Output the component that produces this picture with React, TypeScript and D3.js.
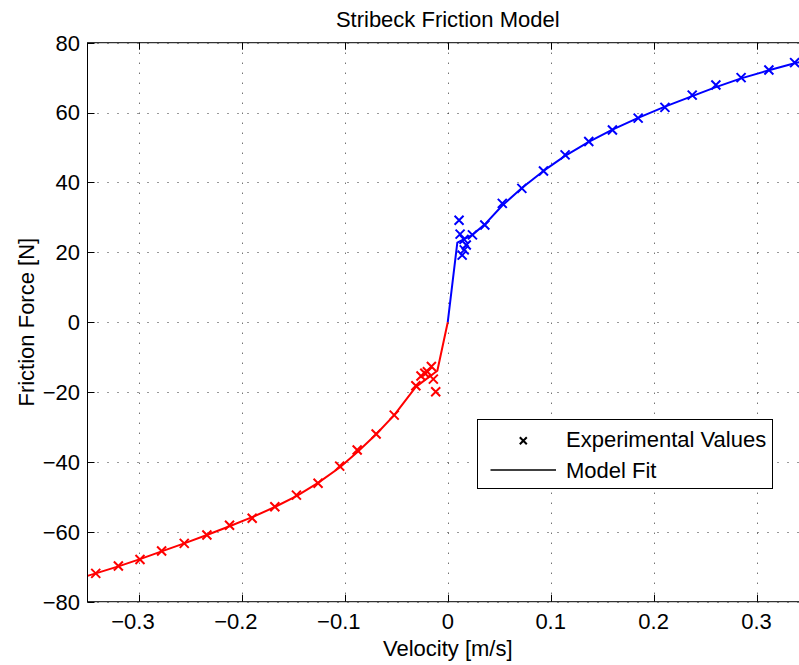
import React from "react";
import * as d3 from "d3";

const title = "Stribeck Friction Model";
const xLabel = "Velocity [m/s]";
const yLabel = "Friction Force [N]";
const legendLabels = ["Experimental Values", "Model Fit"];

const xTicks = [-0.3, -0.2, -0.1, 0, 0.1, 0.2, 0.3];
const xTickLabels = ["−0.3", "−0.2", "−0.1", "0", "0.1", "0.2", "0.3"];
const yTicks = [-80, -60, -40, -20, 0, 20, 40, 60, 80];
const yTickLabels = ["−80", "−60", "−40", "−20", "0", "20", "40", "60", "80"];

// Experimental values (negative velocities)
const negExpVelocity = [-0.342, -0.32, -0.299, -0.278, -0.256, -0.234, -0.212, -0.19, -0.168, -0.147, -0.126, -0.105, -0.088, -0.0696, -0.052, -0.031, -0.026, -0.0223, -0.0198, -0.0159, -0.014, -0.0117];
const negExpForce = [-71.9, -69.8, -67.9, -65.5, -63.3, -60.9, -58.1, -56.1, -52.8, -49.5, -46.1, -41.2, -36.6, -32.0, -26.6, -18.2, -15.4, -14.6, -14.2, -12.7, -16.3, -19.9];

// Experimental values (positive velocities)
const posExpVelocity = [0.011, 0.012, 0.014, 0.016, 0.0158, 0.018, 0.024, 0.036, 0.053, 0.072, 0.093, 0.114, 0.137, 0.16, 0.185, 0.211, 0.2375, 0.2605, 0.285, 0.312, 0.337];
const posExpForce = [29.2, 25.2, 19.2, 20.7, 23.7, 22.1, 25.0, 27.8, 34.0, 38.3, 43.3, 47.9, 51.7, 55.0, 58.4, 61.5, 65.0, 67.9, 70.0, 72.2, 74.3];

// Model fit
const negModelVelocity = [-0.35, -0.342, -0.32, -0.299, -0.278, -0.256, -0.234, -0.212, -0.19, -0.168, -0.147, -0.126, -0.105, -0.088, -0.07, -0.052, -0.031, -0.0101, 0];
const negModelForce = [-72.6, -71.9, -69.9, -67.8, -65.6, -63.3, -60.9, -58.4, -55.8, -52.9, -49.8, -46.0, -41.6, -37.2, -32.2, -26.6, -18.5, -13.9, 0];
const posModelVelocity = [0, 0.0093, 0.024, 0.036, 0.053, 0.072, 0.093, 0.114, 0.137, 0.16, 0.185, 0.211, 0.2375, 0.2605, 0.285, 0.312, 0.337, 0.35];
const posModelForce = [0, 22.8, 25.0, 28.0, 33.4, 38.4, 43.3, 47.6, 51.6, 55.1, 58.5, 61.7, 64.7, 67.3, 69.8, 72.1, 74.1, 75.0];

const W = 799;
const H = 665;
const FONT = "'Liberation Sans', Arial, Helvetica, sans-serif";
const FS = 22;

export default function App() {
  const x = d3.scaleLinear().domain([-0.35, 0.35]).range([87.5, 808]);
  const y = d3.scaleLinear().domain([-80, 80]).range([601.7, 42.7]);
  const [x0, x1] = x.range();
  const [yb, yt] = y.range();
  const tickLen = 7;

  const line = d3
    .line<[number, number]>()
    .x((d) => x(d[0]))
    .y((d) => y(d[1]));

  const zip = (a: number[], b: number[]) => a.map((v, i) => [v, b[i]] as [number, number]);
  const series = [
    { color: "#ff0000", mv: negModelVelocity, mf: negModelForce, ev: negExpVelocity, ef: negExpForce },
    { color: "#0000ff", mv: posModelVelocity, mf: posModelForce, ev: posExpVelocity, ef: posExpForce },
  ];

  const m = 4.5;
  const xMark = `M${-m},${-m}L${m},${m}M${-m},${m}L${m},${-m}`;
  const lm = 3.5;
  const legendMark = `M${-lm},${-lm}L${lm},${lm}M${-lm},${lm}L${lm},${-lm}`;

  return (
    <svg
      width={W}
      height={H}
      style={{ position: "absolute", left: 0, top: 0, display: "block", background: "#fff" }}
      fontFamily={FONT}
    >
      <rect x={0} y={0} width={W} height={H} fill="#fff" />
      <defs>
        <clipPath id="plotclip">
          <rect x={x0} y={yt} width={x1 - x0} height={yb - yt} />
        </clipPath>
      </defs>

      {/* grid */}
      <g stroke="#333" strokeWidth={1} strokeDasharray="1,9">
        {xTicks.map((t) => (
          <line key={"gx" + t} x1={Math.round(x(t)) + 0.5} x2={Math.round(x(t)) + 0.5} y1={yt} y2={yb} />
        ))}
        {yTicks.map((t) => (
          <line key={"gy" + t} x1={x0} x2={x1} y1={Math.round(y(t)) + 0.5} y2={Math.round(y(t)) + 0.5} />
        ))}
      </g>

      {/* data */}
      <g clipPath="url(#plotclip)">
        {series.map((s, i) => (
          <g key={i}>
            <path d={line(zip(s.mv, s.mf)) || ""} fill="none" stroke={s.color} strokeWidth={2} strokeLinejoin="round" />
            {s.ev.map((v, j) => (
              <path
                key={j}
                d={xMark}
                transform={`translate(${x(v)},${y(s.ef[j])})`}
                stroke={s.color}
                strokeWidth={2}
                fill="none"
              />
            ))}
          </g>
        ))}
      </g>

      {/* axes box */}
      <g stroke="#000" strokeWidth={1} fill="none">
        <rect x={x0} y={yt} width={x1 - x0} height={yb - yt} />
        {xTicks.map((t) => (
          <g key={"tx" + t}>
            <line x1={Math.round(x(t)) + 0.5} x2={Math.round(x(t)) + 0.5} y1={yb} y2={yb - tickLen} />
            <line x1={Math.round(x(t)) + 0.5} x2={Math.round(x(t)) + 0.5} y1={yt} y2={yt + tickLen} />
          </g>
        ))}
        {yTicks.map((t) => (
          <g key={"ty" + t}>
            <line x1={x0} x2={x0 + tickLen} y1={Math.round(y(t)) + 0.5} y2={Math.round(y(t)) + 0.5} />
            <line x1={x1} x2={x1 - tickLen} y1={Math.round(y(t)) + 0.5} y2={Math.round(y(t)) + 0.5} />
          </g>
        ))}
      </g>

      {/* tick labels */}
      <g fontSize={FS} fill="#000">
        {xTicks.map((t, i) => (
          <text key={"lx" + t} x={x(t) + (t < 0 ? -6 : 0)} y={629} textAnchor="middle">
            {xTickLabels[i]}
          </text>
        ))}
        {yTicks.map((t, i) => (
          <text key={"ly" + t} x={80} y={y(t)} dy="0.36em" textAnchor="end">
            {yTickLabels[i]}
          </text>
        ))}
      </g>

      {/* labels */}
      <text x={(x0 + x1) / 2} y={27} textAnchor="middle" fontSize={FS}>
        {title}
      </text>
      <text x={(x0 + x1) / 2} y={656} textAnchor="middle" fontSize={FS}>
        {xLabel}
      </text>
      <text
        transform={`translate(34,${(yt + yb) / 2}) rotate(-90)`}
        textAnchor="middle"
        fontSize={FS}
      >
        {yLabel}
      </text>

      {/* legend */}
      <g>
        <rect x={477.5} y={419.5} width={295} height={69} fill="#fff" stroke="#000" strokeWidth={1} />
        <path d={legendMark} transform="translate(523.3,440.7)" stroke="#000" strokeWidth={2} fill="none" />
        <line x1={490.5} x2={556} y1={470} y2={470} stroke="#000" strokeWidth={1.5} />
        <text x={566} y={447} fontSize={FS}>
          {legendLabels[0]}
        </text>
        <text x={566} y={478} fontSize={FS}>
          {legendLabels[1]}
        </text>
      </g>
    </svg>
  );
}
